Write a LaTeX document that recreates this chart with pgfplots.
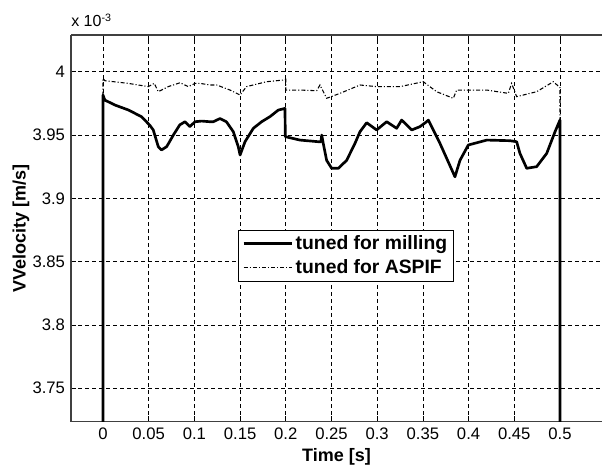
\documentclass[border=0pt]{standalone}
\usepackage{pgfplots}
\pgfplotsset{compat=1.18}
\usepackage{fontspec}
\setmainfont{Liberation Sans}

\begin{document}
\begin{tikzpicture}
\begin{axis}[
  name=ax,
  scale only axis,
  width=398.25pt, height=290pt,
  xmin=-0.035, xmax=0.546,
  ymin=3.7236, ymax=4.029,
  separate axis lines,
  axis x line*=box,
  axis y line*=left,
  axis line style={-, line width=0.8pt, draw=black!75},
  xtick={0,0.05,0.1,0.15,0.2,0.25,0.3,0.35,0.4,0.45,0.5},
  ytick={3.75,3.8,3.85,3.9,3.95,4},
  tick align=inside,
  major tick length=4pt,
  tick style={black, line width=0.5pt},
  /pgf/number format/assume math mode=true,
  /pgf/number format/fixed,
  /pgf/number format/precision=2,
  ticklabel style={font=\fontsize{12.5}{14}\selectfont, text=black},
  xticklabel style={yshift=-1pt},
  yticklabel style={xshift=-1pt},
  grid=major,
  major grid style={black, line width=0.55pt, dash pattern=on 3pt off 2.25pt},
  xlabel={\textbf{Time [s]}},
  xlabel style={font=\fontsize{13.5}{16}\selectfont, at={(axis description cs:0.5,0)}, anchor=center, yshift=-26.5pt},
  ylabel={\textbf{VVelocity [m/s]}},
  ylabel style={font=\fontsize{13.5}{16}\selectfont, at={(axis description cs:-0.0942,0.5)}, anchor=center},
  legend style={at={(axis description cs:0.3145,0.496)}, anchor=north west,
    draw=black, line width=0.6pt, fill=white,
    font=\fontsize{14.5}{17}\selectfont\bfseries,
    inner xsep=3pt, inner ysep=2pt, row sep=2pt,
    cells={anchor=west}},
  legend image code/.code={\draw[#1] (0pt,0pt) -- (36pt,0pt);},
]
% tuned for milling
\addplot[black, line width=2pt, line join=round] coordinates {
(0,3.0) (0,3.9816) (0.002,3.9776) (0.013,3.9737) (0.028,3.9697) (0.042,3.9645)
(0.051,3.9579) (0.055,3.954) (0.0605,3.9408) (0.064,3.9382) (0.0697,3.9408)
(0.077,3.95) (0.084,3.958) (0.0897,3.9605) (0.095,3.9566) (0.1007,3.9605)
(0.108,3.961) (0.117,3.9605) (0.1207,3.9605) (0.128,3.963) (0.135,3.9605)
(0.1426,3.9526) (0.148,3.9408) (0.150,3.9342) (0.1554,3.9447) (0.1645,3.9553)
(0.1736,3.9605) (0.1827,3.9645) (0.1918,3.9697) (0.1991,3.971)
(0.1995,3.9487) (0.2155,3.946) (0.2356,3.9447) (0.2385,3.9447) (0.2393,3.950)
(0.241,3.9434) (0.2447,3.930) (0.2502,3.9237) (0.2575,3.9237) (0.2666,3.930)
(0.2757,3.9434) (0.2812,3.9526) (0.2885,3.9597) (0.2994,3.954) (0.3104,3.9605)
(0.3213,3.9553) (0.3268,3.9618) (0.3378,3.954) (0.3468,3.9566) (0.3541,3.9605)
(0.356,3.9618) (0.3687,3.9434) (0.3851,3.917) (0.3906,3.930) (0.3997,3.9421)
(0.42,3.946) (0.4453,3.9455) (0.4526,3.9447) (0.4562,3.9355) (0.4636,3.9237)
(0.4745,3.925) (0.4855,3.9355) (0.4946,3.9526) (0.5,3.9618) (0.5,3.0)
};
\addlegendentry{tuned for milling}
% tuned for ASPIF
\addplot[black, line width=0.8pt, dash pattern=on 3pt off 1.5pt on 0.8pt off 1.5pt] coordinates {
(0,3.0) (0,3.9948) (0.002,3.9929) (0.0276,3.9908) (0.0496,3.9882) (0.0561,3.9908)
(0.0605,3.9842) (0.0714,3.9882) (0.0843,3.9913) (0.0934,3.9882) (0.1007,3.9908)
(0.106,3.9908) (0.117,3.9895) (0.1244,3.9895) (0.139,3.9855) (0.150,3.9816)
(0.157,3.9882) (0.179,3.9921) (0.1973,3.9934) (0.2,3.994) (0.2,3.9855)
(0.2155,3.9855) (0.2338,3.9850) (0.2374,3.9895) (0.2447,3.979) (0.2593,3.9829)
(0.2812,3.9895) (0.2994,3.9882) (0.325,3.9882) (0.3504,3.9921) (0.3651,3.9842)
(0.3833,3.979) (0.387,3.9855) (0.42,3.9855) (0.4435,3.9829) (0.4471,3.9908)
(0.4526,3.9803) (0.4745,3.9842) (0.4927,3.9921) (0.5,3.9875) (0.5,3.0)
};
\addlegendentry{tuned for ASPIF}
\end{axis}
\node[anchor=base west, font=\fontsize{12}{14}\selectfont, inner sep=0pt] at ([yshift=6pt]ax.north west) {x 10\textsuperscript{-3}};
\pgfresetboundingbox
\path ([xshift=-53.25pt, yshift=-34.7pt]ax.south west) rectangle ([yshift=26.25pt]ax.north east);
\end{tikzpicture}
\end{document}
